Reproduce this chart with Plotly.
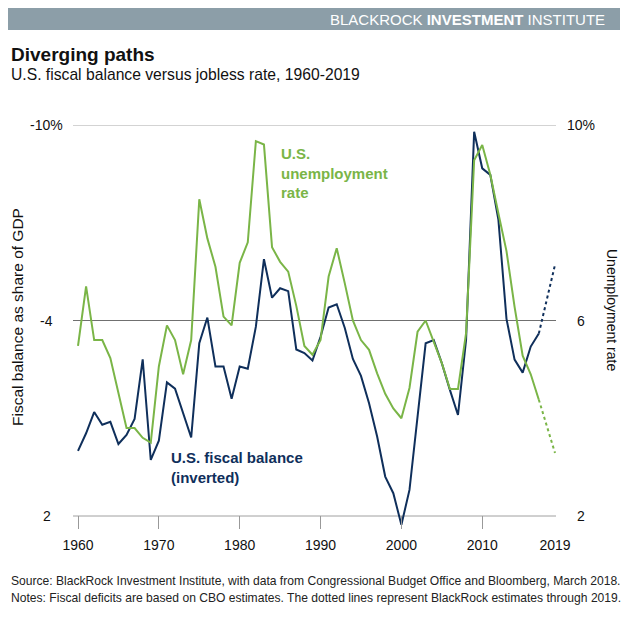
import plotly.graph_objects as go

# ---------------- data ----------------
years = list(range(1960, 2020))
fiscal_balance = [
    0.0, -0.54, -1.19, -0.80, -0.89, -0.21, -0.49, -0.98, -2.81, 0.28,
    -0.31, -2.10, -1.91, -1.16, -0.41, -3.30, -4.09, -2.59, -2.59, -1.60,
    -2.59, -2.52, -3.81, -5.88, -4.70, -4.99, -4.90, -3.11, -3.00, -2.77,
    -3.50, -4.40, -4.50, -3.77, -2.82, -2.30, -1.46, -0.44, 0.79, 1.30,
    2.27, 1.20, -1.05, -3.30, -3.40, -2.69, -1.87, -1.10, -3.40, -9.79,
    -8.67, -8.47, -7.09, -4.05, -2.80, -2.40, -3.20, -3.60, -4.65, -5.71,
]
unemployment = [
    5.48, 6.70, 5.60, 5.60, 5.23, 4.51, 3.80, 3.80, 3.60, 3.50,
    5.06, 5.90, 5.60, 4.90, 5.60, 8.48, 7.68, 7.10, 6.08, 5.90,
    7.18, 7.60, 9.67, 9.60, 7.50, 7.20, 7.00, 6.30, 5.48, 5.30,
    5.60, 6.90, 7.48, 6.76, 6.00, 5.60, 5.40, 4.92, 4.50, 4.20,
    4.00, 4.62, 5.77, 6.00, 5.57, 5.13, 4.60, 4.60, 5.74, 9.28,
    9.59, 8.98, 8.19, 7.42, 6.28, 5.28, 4.90, 4.38, 3.83, 3.29,
]
last_actual_year = 2017

x_tickvals = [1960, 1970, 1980, 1990, 2000, 2010, 2019]
x_ticktext = ["1960", "1970", "1980", "1990", "2000", "2010", "2019"]
left_tickvals = [-10, -4, 2]
left_ticktext = ["-10%", "-4", "2"]
right_tickvals = [10, 6, 2]
right_ticktext = ["10%", "6", "2"]

# ---------------- style ----------------
FONT = "Liberation Sans, Arial, sans-serif"
NAVY = "#0f2f5b"
GREEN = "#7ab547"
OFF = 8  # page body margin
W, H = 632 - OFF, 624 - OFF
EXT = 13  # px of room below the bottom gridline (so the 2000 dip is not clipped)
PL, PR, PT, PB = 73 - OFF, 556 - OFF, 125 - OFF, 516 + EXT - OFF  # plot area in figure pixels
GRID_H = 516 - 125
left_ext = EXT * (left_tickvals[-1] - left_tickvals[0]) / GRID_H
right_ext = EXT * (right_tickvals[0] - right_tickvals[-1]) / GRID_H


def px2x(px):
    return (px - OFF - PL) / (PR - PL)


def py2y(py):
    return (PB - (py - OFF)) / (PB - PT)


split = years.index(last_actual_year) + 1

fig = go.Figure()
fig.add_trace(go.Scatter(x=years[:split], y=fiscal_balance[:split], mode="lines",
                         line=dict(color=NAVY, width=2), yaxis="y"))
fig.add_trace(go.Scatter(x=years[split - 1:], y=fiscal_balance[split - 1:], mode="lines",
                         line=dict(color=NAVY, width=2, dash="dot"), yaxis="y"))
fig.add_trace(go.Scatter(x=years[:split], y=unemployment[:split], mode="lines",
                         line=dict(color=GREEN, width=2), yaxis="y2"))
fig.add_trace(go.Scatter(x=years[split - 1:], y=unemployment[split - 1:], mode="lines",
                         line=dict(color=GREEN, width=2, dash="dot"), yaxis="y2"))

shapes = [
    # header band
    dict(type="rect", xref="paper", yref="paper", x0=px2x(OFF), x1=px2x(620),
         y0=py2y(30), y1=py2y(OFF), fillcolor="#8c9ea8", line=dict(width=0), layer="below"),
]
grid_colors = ["#a8a8a8", "#707070", "#a0a0a0"]
for v, c in zip(left_tickvals, grid_colors):
    shapes.append(dict(type="line", xref="paper", yref="y", x0=0, x1=1, y0=v, y1=v,
                       line=dict(color=c, width=1), layer="below"))

annotations = [
    dict(text="BLACKROCK <b>INVESTMENT</b> INSTITUTE", xref="paper", yref="paper",
         x=px2x(607), y=py2y(19), xanchor="right", yanchor="middle", showarrow=False,
         font=dict(family=FONT, size=15, color="white")),
    dict(text="<b>Diverging paths</b>", xref="paper", yref="paper",
         x=px2x(9), y=py2y(54), xanchor="left", yanchor="middle", showarrow=False,
         font=dict(family=FONT, size=19, color="#111")),
    dict(text="U.S. fiscal balance versus jobless rate, 1960-2019", xref="paper", yref="paper",
         x=px2x(9), y=py2y(74), xanchor="left", yanchor="middle", showarrow=False,
         font=dict(family=FONT, size=15.7, color="#111")),
    dict(text="Fiscal balance as share of GDP", xref="paper", yref="paper",
         x=px2x(17), y=py2y(317), xanchor="center", yanchor="middle", showarrow=False,
         textangle=-90, font=dict(family=FONT, size=15.5, color="#111")),
    dict(text="Unemployment rate", xref="paper", yref="paper",
         x=px2x(612), y=py2y(310), xanchor="center", yanchor="middle", showarrow=False,
         textangle=90, font=dict(family=FONT, size=14, color="#111")),
    dict(text="<b>U.S.<br>unemployment<br>rate</b>", xref="paper", yref="paper",
         x=px2x(279), y=py2y(173), xanchor="left", yanchor="middle", align="left",
         showarrow=False, font=dict(family=FONT, size=15, color=GREEN)),
    dict(text="<b>U.S. fiscal balance<br>(inverted)</b>", xref="paper", yref="paper",
         x=px2x(169), y=py2y(467), xanchor="left", yanchor="middle", align="left",
         showarrow=False, font=dict(family=FONT, size=15, color=NAVY)),
    dict(text="Source: BlackRock Investment Institute, with data from Congressional Budget Office and Bloomberg, March 2018.",
         xref="paper", yref="paper", x=px2x(8.5), y=py2y(581), xanchor="left", yanchor="middle",
         showarrow=False, font=dict(family=FONT, size=12.1, color="#222")),
    dict(text="Notes: Fiscal deficits are based on CBO estimates. The dotted lines represent BlackRock estimates through 2019.",
         xref="paper", yref="paper", x=px2x(8.5), y=py2y(598), xanchor="left", yanchor="middle",
         showarrow=False, font=dict(family=FONT, size=12.1, color="#222")),
]
for v, t in zip(left_tickvals, left_ticktext):
    annotations.append(dict(text=t, xref="paper", yref="y", x=px2x(46.5), y=v,
                            xanchor="center", yanchor="middle", showarrow=False,
                            font=dict(family=FONT, size=14, color="#111")))
for v, t in zip(right_tickvals, right_ticktext):
    annotations.append(dict(text=t, xref="paper", yref="y2", x=px2x(581), y=v,
                            xanchor="center", yanchor="middle", showarrow=False,
                            font=dict(family=FONT, size=14, color="#111")))

fig.update_layout(
    width=W, height=H,
    margin=dict(l=PL, r=W - PR, t=PT, b=H - PB, pad=0),
    paper_bgcolor="white", plot_bgcolor="white",
    showlegend=False,
    xaxis=dict(range=[1960 - 5 / 8.07, 2019 + 1 / 8.07], tickvals=x_tickvals, ticktext=x_ticktext,
               ticks="inside", ticklen=EXT, tickcolor="#999", tickwidth=1,
               showgrid=False, zeroline=False, showline=False,
               tickfont=dict(family=FONT, size=14, color="#111"), ticklabelstandoff=6),
    yaxis=dict(range=[left_tickvals[-1] + left_ext, left_tickvals[0]], showticklabels=False,
               showgrid=False, zeroline=False, ticks="", showline=False),
    yaxis2=dict(range=[right_tickvals[-1] - right_ext, right_tickvals[0]], overlaying="y",
                side="right", showticklabels=False,
                showgrid=False, zeroline=False, ticks="", showline=False),
    shapes=shapes,
    annotations=annotations,
)

fig.write_html("out.html")
